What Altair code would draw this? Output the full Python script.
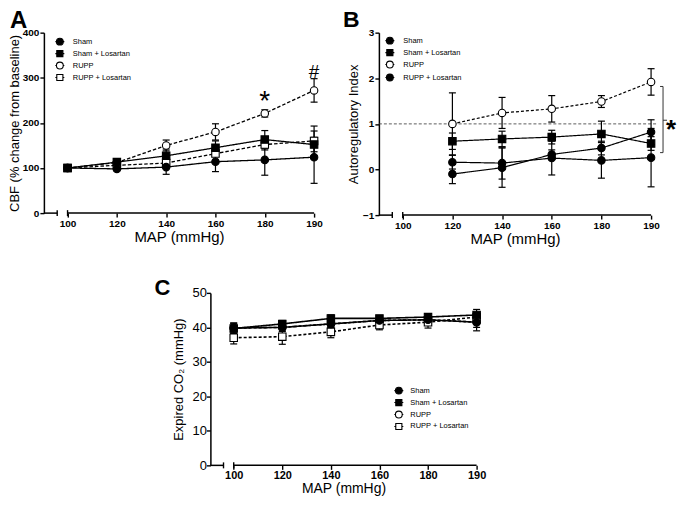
import json
import altair as alt
import pandas as pd

# ---------------- data ----------------
MAP_LABELS = ["100", "120", "140", "160", "180", "190"]
SERIES = ["Sham", "Sham + Losartan", "RUPP", "RUPP + Losartan"]
PANEL_LETTERS = ["A", "B", "C"]

# Panel A: CBF (% change from baseline), MAP 100..190
CBF_SHAM = [100, 98, 102, 114, 118, 124]
CBF_SHAM_SEM = [0, 4, 16, 22, 34, 58]
CBF_SHAM_LOS = [100, 113, 127, 145, 163, 152]
CBF_SHAM_LOS_SEM = [0, 5, 15, 15, 20, 16]
CBF_RUPP = [100, 112, 150, 180, 221, 272]
CBF_RUPP_SEM = [0, 5, 12, 18, 8, 26]
CBF_RUPP_LOS = [100, 106, 111, 132, 152, 160]
CBF_RUPP_LOS_SEM = [0, 4, 12, 14, 12, 33]
A_MARK_TEXT = ["*", "#"]
A_MARK_IDX = [4, 5]
A_MARK_Y = [265, 316]

# Panel B: Autoregulatory index, MAP 120..190
AI_SHAM = [0.16, 0.14, 0.25, 0.20, 0.26]
AI_SHAM_SEM = [0.15, 0.35, 0.37, 0.39, 0.64]
AI_SHAM_LOS = [0.62, 0.67, 0.71, 0.78, 0.57]
AI_SHAM_LOS_SEM = [0.18, 0.17, 0.15, 0.28, 0.15]
AI_RUPP = [1.00, 1.24, 1.33, 1.49, 1.92]
AI_RUPP_SEM = [0.68, 0.34, 0.29, 0.13, 0.29]
AI_RUPP_LOS = [-0.10, 0.04, 0.33, 0.47, 0.82]
AI_RUPP_LOS_SEM = [0.21, 0.43, 0.10, 0.15, 0.27]
AI_REF = 1.0
AI_BRACKET = [1.82, 0.37]
AI_BRACKET_MID = 1.08
AI_STAR = ["*"]
AI_STAR_Y = [1.05]

# Panel C: Expired CO2 (mmHg), MAP 100..190
CO2_SHAM = [39.8, 40.0, 41.0, 42.0, 42.2, 41.5]
CO2_SHAM_SEM = [1.5, 1.2, 1.0, 1.0, 1.0, 2.5]
CO2_SHAM_LOS = [39.7, 41.0, 42.6, 42.6, 43.0, 43.6]
CO2_SHAM_LOS_SEM = [1.5, 1.0, 1.0, 0.8, 1.0, 1.6]
CO2_RUPP = [39.8, 40.0, 41.0, 42.0, 42.2, 41.5]
CO2_RUPP_SEM = [1.2, 1.0, 1.0, 1.0, 1.0, 1.5]
CO2_RUPP_LOS = [37.0, 37.3, 38.7, 40.7, 41.5, 43.0]
CO2_RUPP_LOS_SEM = [1.8, 2.2, 1.7, 1.4, 1.7, 1.2]

# ---------------- styling ----------------
FONT = "Liberation Sans"
XMIN, XMAX = -0.48, 5
BREAK_AT = -0.21
LEG_CIRCLE = "M-1,0L-0.76,0M0.76,0L1,0M0.76,0A0.76,0.76,0,1,1,-0.76,0A0.76,0.76,0,1,1,0.76,0Z"
LEG_SQUARE = "M-1,0L-0.68,0M0.68,0L1,0M-0.68,-0.68L0.68,-0.68L0.68,0.68L-0.68,0.68Z"
SOLID = [1, 0]
RESOLVE = dict(shape="independent", fill="independent", strokeDash="independent",
               strokeWidth="independent")


def long_df(vals, sems, start, order):
    rows = []
    for s, vl, el in zip(SERIES, vals, sems):
        for k, (v, e) in enumerate(zip(vl, el)):
            i = start + k
            rows.append({"series": s, "idx": i, "MAP": MAP_LABELS[i], "value": v,
                         "lo": v - e, "hi": v + e, "sem": e})
    df = pd.DataFrame(rows)
    df["z"] = df["series"].map({s: n for n, s in enumerate(order)})
    return df.sort_values(["z", "idx"]).reset_index(drop=True)


def panel(p):
    df = long_df(p["vals"], p["sems"], p["start"], p["order"])
    W, H = p["W"], p["H"]
    one = pd.DataFrame({"k": [0]})
    xscale = alt.Scale(domain=[XMIN, XMAX], nice=False, zero=False)
    yscale = alt.Scale(domain=p["ydom"], nice=False, zero=False)
    xaxis = alt.Axis(values=list(range(len(MAP_LABELS))),
                     labelExpr=json.dumps(MAP_LABELS) + "[datum.value]",
                     title="MAP (mmHg)", domain=False, grid=False,
                     tickSize=4, tickWidth=1.4, tickColor="black",
                     labelFont=FONT, labelFontSize=p["xlab"], labelFontWeight="bold",
                     labelColor="black", labelPadding=p["xlab_pad"], labelFlush=False,
                     labelOverlap=False,
                     titleFont=FONT, titleFontSize=p["xtitle"], titleFontWeight="normal",
                     titleColor="black", titlePadding=p["xtitle_pad"])
    yaxis = alt.Axis(values=p["yvals"], title=p["ytitle"], grid=False,
                     domainColor="black", domainWidth=1.5,
                     tickSize=4, tickWidth=1.4, tickColor="black",
                     labelFont=FONT, labelFontSize=p["ylab"], labelFontWeight=p["ylab_w"],
                     labelColor="black", labelPadding=p["ylab_pad"],
                     titleFont=FONT, titleFontSize=p["ytitle_size"], titleFontWeight="normal",
                     titleColor="black", titlePadding=p["ytitle_pad"])

    def X(f):
        return alt.X(f"{f}:Q", scale=xscale, axis=xaxis)

    def Y(f):
        return alt.Y(f"{f}:Q", scale=yscale, axis=yaxis)

    layers = list(p.get("under", lambda *_: [])(W, H))

    lines = alt.Chart(df).mark_line(color="black").encode(
        x=X("idx"), y=Y("value"),
        strokeDash=alt.StrokeDash("series:N", scale=alt.Scale(domain=SERIES, range=p["dashes"]), legend=None),
        strokeWidth=alt.StrokeWidth("series:N", scale=alt.Scale(domain=SERIES, range=p["widths"]), legend=None),
    )
    edf = df[df["sem"] > 0]
    stems = alt.Chart(edf).mark_rule(color="black", strokeWidth=1.2).encode(
        x=X("idx"), y=Y("lo"), y2="hi:Q")
    cap_lo = alt.Chart(edf).mark_tick(orient="horizontal", color="black", size=7,
                                      thickness=1.2, opacity=1).encode(x=X("idx"), y=Y("lo"))
    cap_hi = alt.Chart(edf).mark_tick(orient="horizontal", color="black", size=7,
                                      thickness=1.2, opacity=1).encode(x=X("idx"), y=Y("hi"))

    brk1 = alt.Chart(one).mark_rule(color="black", strokeWidth=1.5).encode(
        x=alt.datum(XMIN), x2=alt.datum(BREAK_AT), y=alt.value(H))
    brk2 = alt.Chart(one).mark_rule(color="black", strokeWidth=1.5).encode(
        x=alt.datum(0), x2=alt.datum(XMAX), y=alt.value(H))
    brkt1 = alt.Chart(one).mark_rule(color="black", strokeWidth=1.4).encode(
        x=alt.datum(BREAK_AT), y=alt.value(H - 3), y2=alt.value(H + 3))
    brkt2 = alt.Chart(one).mark_rule(color="black", strokeWidth=1.4).encode(
        x=alt.datum(0), y=alt.value(H - 3), y2=alt.value(H + 3))

    pts = alt.Chart(df).mark_point(filled=True, opacity=1, size=56, stroke="black",
                                   strokeWidth=1.1).encode(
        x=X("idx"), y=Y("value"),
        shape=alt.Shape("series:N", scale=alt.Scale(domain=SERIES, range=p["shapes"]), legend=None),
        fill=alt.Fill("series:N", scale=alt.Scale(domain=SERIES, range=p["fills"]), legend=None),
    )
    lx, ly, loff = p["legend"]
    leg = alt.Legend(orient="none", legendX=lx, legendY=ly, title=None, padding=0,
                     symbolSize=81, rowPadding=0, labelFont=FONT, labelFontSize=7.5,
                     labelColor="black", labelOffset=loff, symbolStrokeWidth=1.1,
                     labelLimit=200)
    leg_layer = alt.Chart(df).transform_filter("false").mark_point(
        filled=True, opacity=1, stroke="black", strokeWidth=1.1).encode(
        x=X("idx"), y=Y("value"),
        shape=alt.Shape("series:N", scale=alt.Scale(domain=SERIES, range=p["leg_shapes"]), legend=leg),
        fill=alt.Fill("series:N", scale=alt.Scale(domain=SERIES, range=p["fills"]), legend=leg),
    )
    tx, ty = p["letter_xy"]
    letter = alt.Chart(one).mark_text(text=p["letter"], font=FONT, fontSize=p["letter_size"],
                                      fontWeight="bold", align="left", baseline="top",
                                      color="black").encode(x=alt.value(tx), y=alt.value(ty))

    layers += [lines, stems, cap_lo, cap_hi, brk1, brk2, brkt1, brkt2, pts, leg_layer, letter]
    layers += list(p.get("over", lambda *_: [])(W, H))
    return alt.layer(*layers).resolve_scale(shape="independent", fill="independent").properties(
        width=W, height=H)


def a_over(W, H):
    out = []
    sizes = {"*": 28, "#": 19}
    shifts = {"*": 8, "#": 1}
    for t, i, y in zip(A_MARK_TEXT, A_MARK_IDX, A_MARK_Y):
        d = pd.DataFrame({"idx": [i], "y": [y], "t": [t]})
        out.append(alt.Chart(d).mark_text(font=FONT, fontSize=sizes[t], align="center",
                                          baseline="middle", dy=shifts[t], color="black").encode(
            x="idx:Q", y="y:Q", text="t:N"))
    return out


def b_under(W, H):
    one = pd.DataFrame({"k": [0]})
    return [alt.Chart(one).mark_rule(color="#333333", strokeWidth=0.8, strokeDash=[3, 2]).encode(
        x=alt.value(0), x2=alt.value(W + 6), y=alt.datum(AI_REF))]


def b_over(W, H):
    one = pd.DataFrame({"k": [0]})
    c = "#333333"
    bx = W + 12
    out = [
        alt.Chart(one).mark_rule(color=c, strokeWidth=1).encode(
            x=alt.value(bx), y=alt.datum(AI_BRACKET[0]), y2=alt.datum(AI_BRACKET[1])),
        alt.Chart(one).mark_rule(color=c, strokeWidth=1).encode(
            x=alt.value(bx - 3), x2=alt.value(bx), y=alt.datum(AI_BRACKET[0])),
        alt.Chart(one).mark_rule(color=c, strokeWidth=1).encode(
            x=alt.value(bx - 3), x2=alt.value(bx), y=alt.datum(AI_BRACKET[1])),
        alt.Chart(one).mark_rule(color=c, strokeWidth=1).encode(
            x=alt.value(bx), x2=alt.value(bx + 4), y=alt.datum(AI_BRACKET_MID)),
    ]
    d = pd.DataFrame({"y": AI_STAR_Y, "t": AI_STAR})
    out.append(alt.Chart(d).mark_text(font=FONT, fontSize=26, fontWeight="bold", align="center",
                                      baseline="middle", dy=8, color="black").encode(
        x=alt.value(W + 20), y="y:Q", text="t:N"))
    return out


ORDER = ["RUPP", "RUPP + Losartan", "Sham", "Sham + Losartan"]

PA = dict(vals=[CBF_SHAM, CBF_SHAM_LOS, CBF_RUPP, CBF_RUPP_LOS],
          sems=[CBF_SHAM_SEM, CBF_SHAM_LOS_SEM, CBF_RUPP_SEM, CBF_RUPP_LOS_SEM],
          start=0, W=271, H=181, ydom=[0, 400], yvals=[0, 100, 200, 300, 400],
          ytitle="CBF (% change from baseline)", ylab=10, ylab_w="bold", ylab_pad=1,
          ytitle_size=13, ytitle_pad=1, xlab=10, xlab_pad=1, xtitle=15, xtitle_pad=1,
          shapes=["circle", "square", "circle", "square"],
          leg_shapes=[LEG_CIRCLE, LEG_SQUARE, LEG_CIRCLE, LEG_SQUARE],
          fills=["black", "black", "white", "white"],
          dashes=[SOLID, SOLID, [3.5, 2], [3.5, 2]], widths=[1.3, 1.3, 1.8, 1.8],
          legend=(10.5, 3.5, 7.5), letter=PANEL_LETTERS[0], letter_size=24, letter_xy=(-34, -24),
          order=ORDER, over=a_over)

PB = dict(vals=[AI_SHAM, AI_SHAM_LOS, AI_RUPP, AI_RUPP_LOS],
          sems=[AI_SHAM_SEM, AI_SHAM_LOS_SEM, AI_RUPP_SEM, AI_RUPP_LOS_SEM],
          start=1, W=273, H=183, ydom=[-1, 3], yvals=[-1, 0, 1, 2, 3],
          ytitle="Autoregulatory Index", ylab=10, ylab_w="bold", ylab_pad=1,
          ytitle_size=13, ytitle_pad=2, xlab=10, xlab_pad=1, xtitle=15, xtitle_pad=1,
          shapes=["circle", "square", "circle", "circle"],
          leg_shapes=[LEG_CIRCLE, LEG_SQUARE, LEG_CIRCLE, LEG_CIRCLE],
          fills=["black", "black", "white", "black"],
          dashes=[SOLID, SOLID, [3, 2], SOLID], widths=[1.2, 1.2, 1.2, 1.2],
          legend=(5.5, 2.5, 8), letter=PANEL_LETTERS[1], letter_size=23, letter_xy=(-36, -24),
          order=ORDER, under=b_under, over=b_over)

PC = dict(vals=[CO2_SHAM, CO2_SHAM_LOS, CO2_RUPP, CO2_RUPP_LOS],
          sems=[CO2_SHAM_SEM, CO2_SHAM_LOS_SEM, CO2_RUPP_SEM, CO2_RUPP_LOS_SEM],
          start=0, W=267, H=173, ydom=[0, 50], yvals=[0, 10, 20, 30, 40, 50],
          ytitle="Expired CO\u2082 (mmHg)", ylab=13, ylab_w="normal", ylab_pad=0,
          ytitle_size=13, ytitle_pad=7, xlab=11, xlab_pad=0, xtitle=14, xtitle_pad=1.5,
          shapes=["circle", "square", "circle", "square"],
          leg_shapes=[LEG_CIRCLE, LEG_SQUARE, LEG_CIRCLE, LEG_SQUARE],
          fills=["black", "black", "white", "white"],
          dashes=[SOLID, SOLID, [3, 2], [3, 2]], widths=[1.6, 1.6, 1.2, 1.2],
          legend=(183.5, 92.5, 6), letter=PANEL_LETTERS[2], letter_size=22, letter_xy=(-56, -15),
          order=ORDER)

spacer = alt.Chart(pd.DataFrame({"k": [0]})).mark_rule(color="white", strokeWidth=1).encode(
    x=alt.value(0), y=alt.value(0), y2=alt.value(10)).properties(width=167, height=10)

top = alt.hconcat(panel(PA), panel(PB), spacing=65, bounds="flush").resolve_scale(**RESOLVE)
bottom = alt.hconcat(spacer, panel(PC), spacing=0, bounds="flush").resolve_scale(**RESOLVE)

chart = alt.vconcat(top, bottom, spacing=31).resolve_scale(**RESOLVE).properties(
    padding={"left": 0, "top": 0, "right": 0, "bottom": 0}).configure_view(strokeWidth=0)

chart.save("out.html", embed_options={"renderer": "svg", "actions": False})
